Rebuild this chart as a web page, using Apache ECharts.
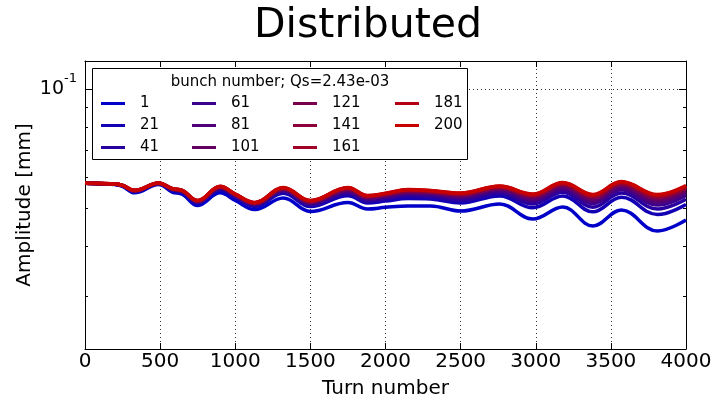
<!DOCTYPE html>
<html>
<head>
<meta charset="utf-8">
<script src="https://cdn.jsdelivr.net/npm/echarts@6/dist/echarts.min.js"></script>
<style>
  html, body { margin: 0; padding: 0; background: #fff; }
  #chart { width: 713px; height: 400px; }
</style>
</head>
<body>
<div id="chart"></div>
<script>
// Turn numbers at which the bunch amplitudes are sampled
const turns = [0, 100, 200, 250, 330, 490, 580, 650, 750, 900, 1000, 1130, 1320, 1500,
  1750, 1880, 2000, 2150, 2300, 2500, 2760, 2980, 3180, 3380, 3570, 3810, 4000];

// Bunch labels shown in the legend
const bunches = ['1', '21', '41', '61', '81', '101', '121', '141', '161', '181', '200'];

// Oscillation amplitude [mm] of each bunch
const amp1 = [0.05781, 0.05765, 0.05741, 0.05681, 0.05470, 0.05741, 0.05495, 0.05416, 0.05079, 0.05470, 0.05230, 0.04962, 0.05307, 0.04905, 0.05169, 0.04977, 0.05026, 0.05065, 0.05065, 0.04919, 0.05124, 0.04695, 0.05035, 0.04507, 0.04948, 0.04378, 0.04668];
const amp21 = [0.05781, 0.05769, 0.05749, 0.05696, 0.05506, 0.05764, 0.05546, 0.05473, 0.05147, 0.05564, 0.05320, 0.05054, 0.05455, 0.05048, 0.05377, 0.05156, 0.05214, 0.05289, 0.05275, 0.05157, 0.05372, 0.05013, 0.05369, 0.04896, 0.05332, 0.04818, 0.05110];
const amp41 = [0.05781, 0.05771, 0.05751, 0.05701, 0.05518, 0.05771, 0.05563, 0.05492, 0.05169, 0.05596, 0.05350, 0.05085, 0.05505, 0.05097, 0.05448, 0.05217, 0.05279, 0.05366, 0.05347, 0.05239, 0.05457, 0.05124, 0.05486, 0.05032, 0.05467, 0.04974, 0.05266];
const amp61 = [0.05781, 0.05772, 0.05753, 0.05705, 0.05527, 0.05777, 0.05576, 0.05506, 0.05186, 0.05619, 0.05372, 0.05108, 0.05542, 0.05133, 0.05500, 0.05263, 0.05326, 0.05423, 0.05400, 0.05300, 0.05520, 0.05207, 0.05573, 0.05135, 0.05567, 0.05092, 0.05384];
const amp81 = [0.05781, 0.05773, 0.05754, 0.05707, 0.05533, 0.05781, 0.05585, 0.05517, 0.05198, 0.05636, 0.05389, 0.05125, 0.05569, 0.05160, 0.05539, 0.05296, 0.05361, 0.05465, 0.05440, 0.05344, 0.05567, 0.05268, 0.05637, 0.05211, 0.05642, 0.05179, 0.05472];
const amp101 = [0.05781, 0.05773, 0.05755, 0.05709, 0.05538, 0.05784, 0.05592, 0.05524, 0.05207, 0.05649, 0.05401, 0.05138, 0.05590, 0.05180, 0.05568, 0.05321, 0.05388, 0.05496, 0.05469, 0.05378, 0.05602, 0.05314, 0.05685, 0.05269, 0.05699, 0.05246, 0.05538];
const amp121 = [0.05781, 0.05774, 0.05756, 0.05711, 0.05542, 0.05786, 0.05597, 0.05531, 0.05214, 0.05660, 0.05411, 0.05148, 0.05607, 0.05196, 0.05592, 0.05342, 0.05410, 0.05523, 0.05494, 0.05406, 0.05632, 0.05353, 0.05726, 0.05317, 0.05746, 0.05302, 0.05594];
const amp141 = [0.05781, 0.05774, 0.05757, 0.05712, 0.05545, 0.05788, 0.05601, 0.05535, 0.05220, 0.05667, 0.05418, 0.05155, 0.05619, 0.05208, 0.05609, 0.05357, 0.05425, 0.05541, 0.05511, 0.05426, 0.05652, 0.05380, 0.05755, 0.05352, 0.05780, 0.05342, 0.05634];
const amp161 = [0.05781, 0.05775, 0.05757, 0.05713, 0.05547, 0.05790, 0.05605, 0.05539, 0.05224, 0.05673, 0.05424, 0.05162, 0.05629, 0.05218, 0.05624, 0.05370, 0.05438, 0.05557, 0.05526, 0.05443, 0.05670, 0.05404, 0.05779, 0.05381, 0.05808, 0.05376, 0.05668];
const amp181 = [0.05781, 0.05775, 0.05757, 0.05714, 0.05549, 0.05791, 0.05607, 0.05542, 0.05227, 0.05678, 0.05429, 0.05166, 0.05636, 0.05225, 0.05634, 0.05378, 0.05447, 0.05568, 0.05536, 0.05455, 0.05682, 0.05420, 0.05796, 0.05401, 0.05828, 0.05399, 0.05690];
const amp200 = [0.05781, 0.05775, 0.05758, 0.05714, 0.05550, 0.05791, 0.05609, 0.05544, 0.05230, 0.05681, 0.05432, 0.05169, 0.05641, 0.05230, 0.05641, 0.05384, 0.05454, 0.05576, 0.05544, 0.05463, 0.05691, 0.05432, 0.05808, 0.05416, 0.05842, 0.05416, 0.05708];

const amplitudes = [amp1, amp21, amp41, amp61, amp81, amp101, amp121, amp141, amp161, amp181, amp200];

// Blue-to-red colour ramp over bunch number
const lineColors = ['#0000c8', '#1400b4', '#2800a0', '#3c008c', '#500078', '#650063',
  '#79004f', '#8d003b', '#a10027', '#b50013', '#c80000'];

// Axis ticks
const yMajorTicks = [0.1];
const yMinorTicks = [0.03, 0.04, 0.05, 0.06, 0.07, 0.08, 0.09];

const FONT = 'DejaVu Sans';
const chart = echarts.init(document.getElementById('chart'), null, { renderer: 'canvas' });

const series = bunches.map((name, i) => ({
  name: name,
  type: 'line',
  xAxisIndex: 0,
  yAxisIndex: 0,
  showSymbol: false,
  smooth: 0.4,
  color: lineColors[i],
  lineStyle: { width: 3.5, color: lineColors[i] },
  data: turns.map((t, j) => [t, amplitudes[i][j]])
}));

// Legend laid out in four columns
const legendColumns = [['1', '21', '41'], ['61', '81', '101'], ['121', '141', '161'], ['181', '200']];
const legendLeft = [101, 192, 293, 395];
const legends = legendColumns.map((col, c) => ({
  data: col,
  orient: 'vertical',
  left: legendLeft[c],
  top: 96,
  padding: 0,
  itemGap: 7,
  itemWidth: 24,
  itemHeight: 3,
  icon: 'rect',
  selectedMode: false,
  z: 5,
  textStyle: { fontSize: 15, fontFamily: FONT, color: '#000', padding: [0, 0, 0, 10] }
}));

const frameLine = { show: true, lineStyle: { color: '#000', width: 1 } };
const dotted = { show: true, lineStyle: { color: '#333', width: 1, type: [1, 3] } };

const yLog = { type: 'log', logBase: 10, min: 0.022, max: 0.118 };

chart.setOption({
  animation: false,
  backgroundColor: '#fff',
  grid: { left: 85, right: 27, top: 61, bottom: 51, containLabel: false, outerBoundsMode: 'none' },
  legend: legends,
  xAxis: [
    {
      type: 'value', position: 'bottom', min: 0, max: 4000, interval: 500,
      axisLine: frameLine,
      axisTick: { show: true, inside: true, length: 6, lineStyle: { color: '#000' } },
      axisLabel: { fontSize: 20, fontFamily: FONT, color: '#000', margin: 3, formatter: v => String(v) },
      splitLine: dotted,
      name: 'Turn number', nameLocation: 'middle', nameGap: 30, nameMoveOverlap: false,
      nameTextStyle: { fontSize: 20, fontFamily: FONT, color: '#000' }
    },
    {
      type: 'value', position: 'top', min: 0, max: 4000, interval: 500,
      axisLine: frameLine,
      axisTick: { show: true, inside: true, length: 6, lineStyle: { color: '#000' } },
      axisLabel: { show: false },
      splitLine: { show: false }
    }
  ],
  yAxis: [
    Object.assign({}, yLog, {
      position: 'left',
      axisLine: frameLine,
      axisTick: { show: true, inside: true, length: 7, customValues: yMajorTicks, lineStyle: { color: '#000' } },
      axisLabel: {
        customValues: yMajorTicks, margin: 8,
        formatter: () => '{b|10}{s|-1}',
        rich: {
          b: { fontSize: 19, fontFamily: FONT, color: '#000', lineHeight: 34 },
          s: { fontSize: 13, fontFamily: FONT, color: '#000', lineHeight: 13, verticalAlign: 'top' }
        }
      },
      splitLine: dotted,
      name: 'Amplitude [mm]', nameLocation: 'middle', nameGap: 50, nameRotate: 90, nameMoveOverlap: false,
      nameTextStyle: { fontSize: 20, fontFamily: FONT, color: '#000' }
    }),
    Object.assign({}, yLog, {
      position: 'left',
      axisLine: { show: false },
      axisTick: { show: true, inside: true, length: 3, customValues: yMinorTicks, lineStyle: { color: '#000' } },
      axisLabel: { show: false },
      splitLine: { show: false }
    }),
    Object.assign({}, yLog, {
      position: 'right',
      axisLine: frameLine,
      axisTick: { show: true, inside: true, length: 7, customValues: yMajorTicks, lineStyle: { color: '#000' } },
      axisLabel: { show: false },
      splitLine: { show: false }
    }),
    Object.assign({}, yLog, {
      position: 'right',
      axisLine: { show: false },
      axisTick: { show: true, inside: true, length: 3, customValues: yMinorTicks, lineStyle: { color: '#000' } },
      axisLabel: { show: false },
      splitLine: { show: false }
    })
  ],
  graphic: [
    {
      type: 'text', x: 368, y: 26, z: 10,
      style: { text: 'Distributed', fontSize: 41, fontFamily: FONT, fill: '#000', align: 'center', verticalAlign: 'middle' }
    },
    {
      type: 'rect', z: 3,
      shape: { x: 92.5, y: 68.5, width: 375, height: 91 },
      style: { fill: '#fff', stroke: '#000', lineWidth: 1 }
    },
    {
      type: 'text', x: 280, y: 82, z: 6,
      style: { text: 'bunch number; Qs=2.43e-03', fontSize: 15, fontFamily: FONT, fill: '#000', align: 'center', verticalAlign: 'middle' }
    }
  ],
  series: series
});
</script>
</body>
</html>
